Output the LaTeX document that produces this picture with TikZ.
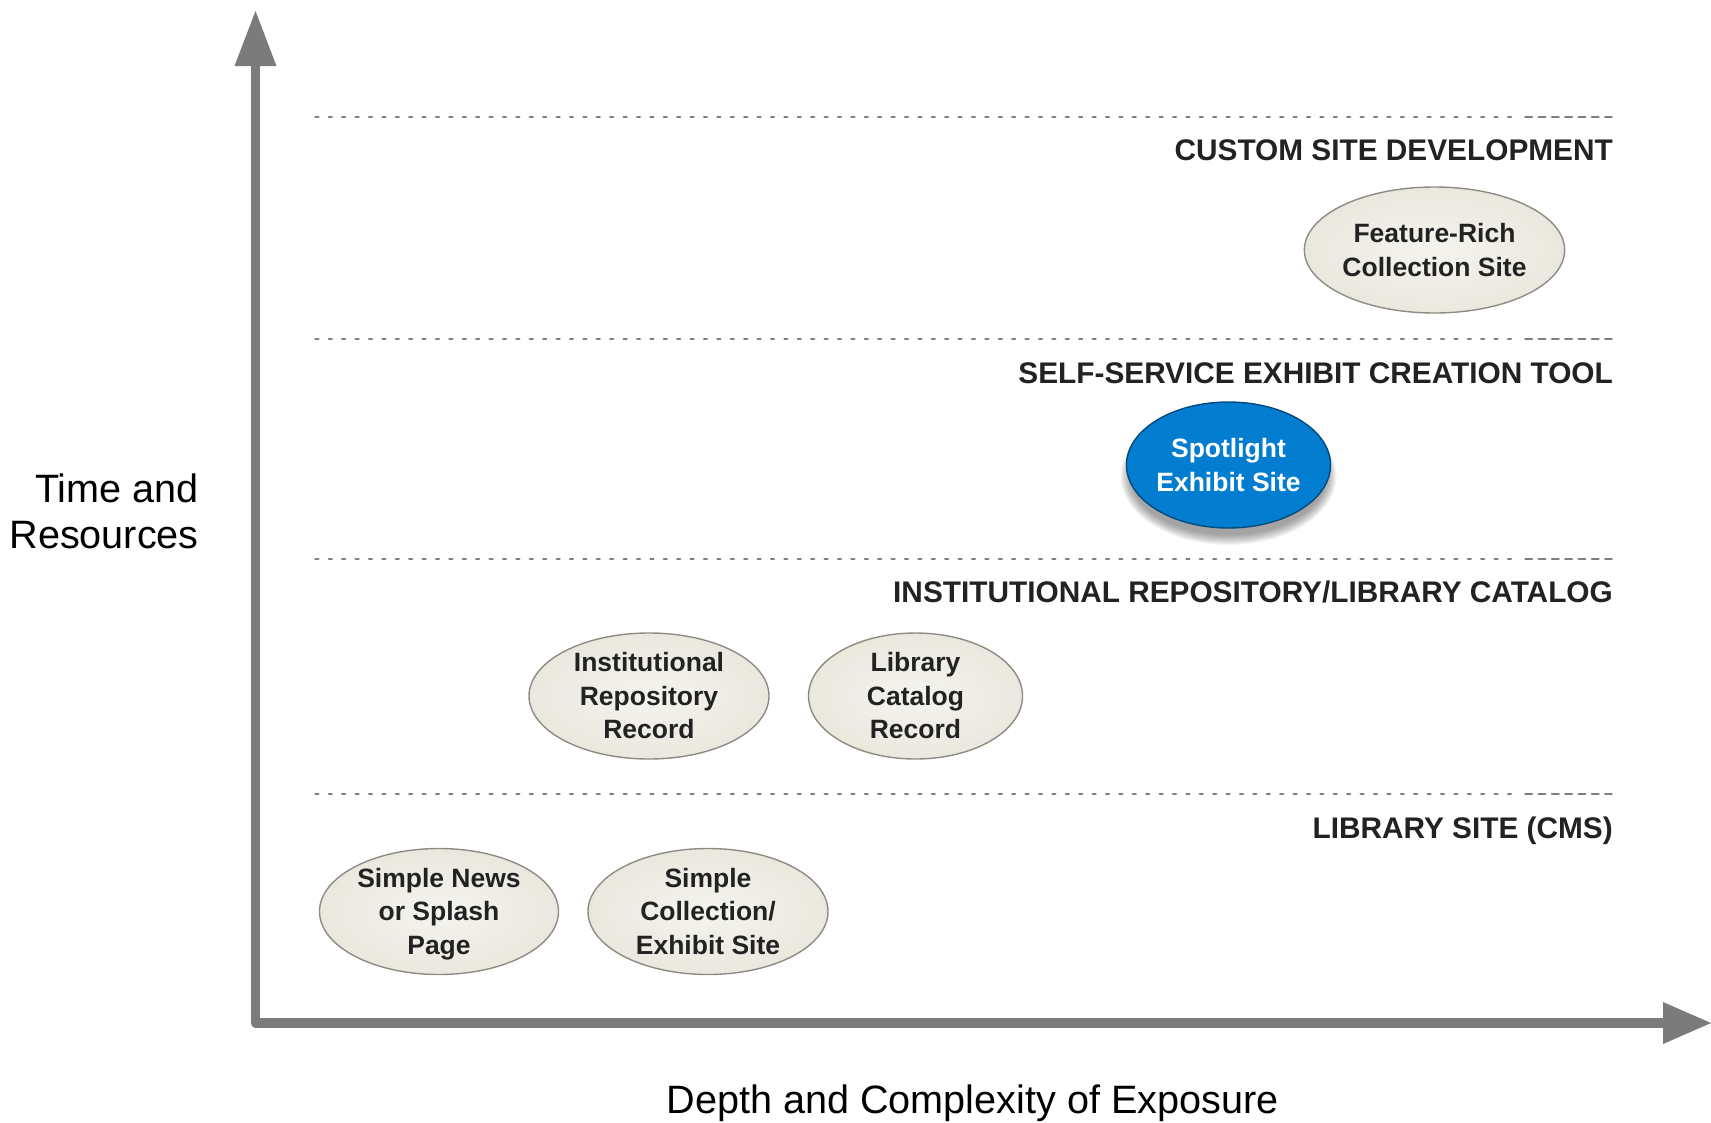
\documentclass[tikz,border=0pt]{standalone}
\usepackage{fontspec}
\setmainfont{Liberation Sans}
\usetikzlibrary{shapes.geometric}
\definecolor{axisgray}{HTML}{7B7B7B}
\definecolor{dashgray}{HTML}{7E7E7E}
\definecolor{ellin}{HTML}{F4F3EE}
\definecolor{ellout}{HTML}{EAE8DE}
\definecolor{ellborder}{HTML}{8E8C82}
\definecolor{spotblue}{HTML}{037DD0}
\definecolor{textdark}{HTML}{222222}
\begin{document}
\begin{tikzpicture}[x=1pt,y=-1pt,
  level/.style={draw=dashgray, line width=2.7pt, line cap=round, dash pattern=on 2.8pt off 10.6pt},
  levelend/.style={draw=dashgray, line width=2.7pt, line cap=round, dash pattern=on 6.6pt off 6.7pt},
  tier/.style={anchor=base east, inner sep=0pt, font=\fontsize{29.8}{36}\selectfont\bfseries, text=textdark},
  option/.style={ellipse, draw=ellborder, line width=1.4pt, inner color=ellin, outer color=ellout,
    inner sep=0pt, align=center, font=\fontsize{26.5}{33.5}\selectfont\bfseries, text=textdark},
  spot/.style={option, fill=spotblue, inner color=spotblue, outer color=spotblue, draw=spotblue!60!black, text=white},
  axislabel/.style={inner sep=0pt, font=\fontsize{39.6}{46}\selectfont, text=black},
  axisline/.style={draw=axisgray, line width=9.5pt, line join=round},
  axistip/.style={fill=axisgray}
]
\useasboundingbox (0,0) rectangle (1711,1122);

% axes
\coordinate (ytop) at (255.5,11);
\coordinate (ybase) at (255.5,60);
\coordinate (origin) at (255.5,1023);
\coordinate (xbase) at (1667,1023);
\coordinate (xtip) at (1711,1023);
\draw[axisline] (ybase) -- (origin) -- (xbase);
\fill[axistip] (234.5,66) -- (276.5,66) -- (ytop) -- cycle;
\fill[axistip] (1663,1002) -- (1663,1044) -- (xtip) -- cycle;

% tier separators
\foreach \y in {117,339,559,794} {
  \draw[level] (315.5,\y) -- (1514,\y);
  \draw[levelend] (1525.4,\y) -- (1611.6,\y);
}

% tier labels
\node[tier] (tcustom) at (1613,160) {CUSTOM SITE DEVELOPMENT};
\node[tier] (tself) at (1613,383.5) {SELF-SERVICE EXHIBIT CREATION TOOL};
\node[tier] (tinst) at (1613,602) {INSTITUTIONAL REPOSITORY/LIBRARY CATALOG};
\node[tier] (tlib) at (1613,838) {LIBRARY SITE (CMS)};

% options
\node[option, minimum width=257pt, minimum height=126pt] (feature) at (1434.5,250) {Feature-Rich\\Collection Site};

\foreach \i in {0,...,9}
  \fill[black, opacity=0.045] (1228.5,476) ellipse [x radius={108-\i*1.1}, y radius={69-\i*1.1}];
\node[spot, minimum width=204pt, minimum height=126pt] (spotlight) at (1228.5,465) {Spotlight\\Exhibit Site};

\node[option, minimum width=240pt, minimum height=126pt] (irr) at (649,696) {Institutional\\Repository\\Record};
\node[option, minimum width=214pt, minimum height=126pt] (lcr) at (915.5,696) {Library\\Catalog\\Record};

\node[option, minimum width=239pt, minimum height=126pt] (news) at (439,911.5) {Simple News\\or Splash\\Pa\smash{g}e};
\node[option, minimum width=240pt, minimum height=126pt] (simple) at (708,911.5) {Simple\\Collection/\\Exhibit Site};

% axis labels
\node[axislabel, align=right, anchor=east] (ylabel) at (199,511.5) {Time and\\Resources};
\node[axislabel, anchor=base] (xlabel) at (972.5,1113) {Depth and Complexity of Exposure};
\end{tikzpicture}
\end{document}
